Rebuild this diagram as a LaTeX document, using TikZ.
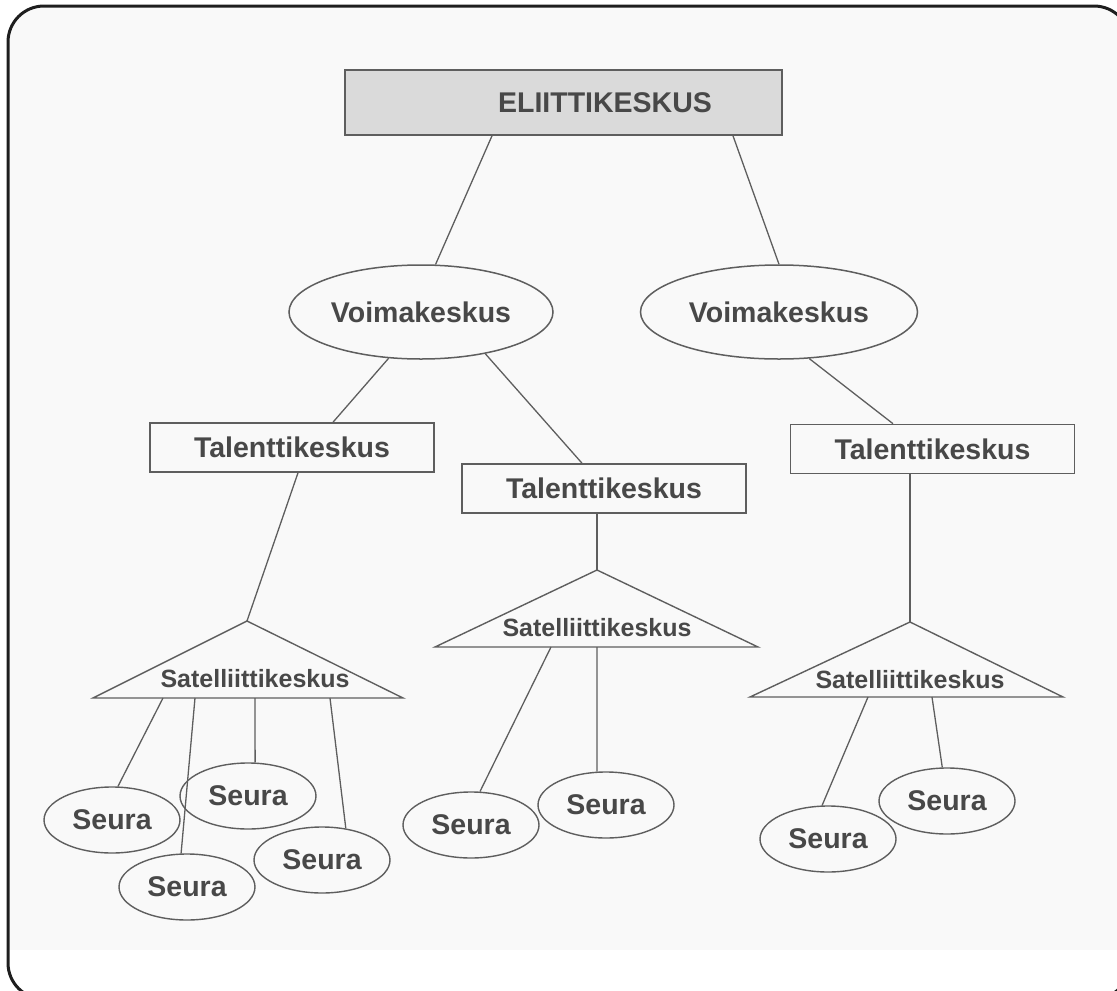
\documentclass[tikz,border=0pt]{standalone}
\usepackage{fontspec}
\setmainfont{Liberation Sans}
\usetikzlibrary{shapes.geometric}
\definecolor{ink}{HTML}{484848}
\definecolor{edge}{HTML}{5E5E5E}
\definecolor{paper}{HTML}{F9F9F9}
\definecolor{headfill}{HTML}{DADADA}
\definecolor{frame}{HTML}{1E1E1E}
\begin{document}
\begin{tikzpicture}[x=1pt,y=-1pt,
  lbl/.style={font=\bfseries\fontsize{28.5}{30}\selectfont, text=ink},
  headbox/.style={draw=edge, line width=1.6pt, fill=headfill, minimum width=437pt, minimum height=65pt, inner sep=0pt},
  talbox/.style={draw=edge, line width=1.6pt, minimum width=284pt, minimum height=49pt, inner sep=0pt, lbl},
  powerell/.style={ellipse, draw=edge, line width=1.5pt, minimum height=94pt, inner sep=0pt, lbl},
  clubell/.style={ellipse, draw=edge, line width=1.4pt, minimum width=136pt, minimum height=66pt, inner sep=0pt, lbl},
  satlbl/.style={font=\bfseries\fontsize{25}{27}\selectfont, text=ink, inner sep=0pt},
  tri/.style={draw=edge, line width=1.4pt, line join=miter},
  link/.style={draw=edge, line width=1.3pt},
]
\useasboundingbox (0,0) rectangle (1117,991);

% paper and outer frame
\begin{scope}
  \clip[rounded corners=36pt] (8,6) rectangle (1130,999);
  \fill[paper] (0,0) rectangle (1117,950);
\end{scope}
\draw[frame, line width=3pt, rounded corners=36pt] (8,6) rectangle (1130,999);

% hierarchy nodes
\node[headbox] (elite) at (563.5,102.5) {};
\node[lbl, inner sep=0pt] (eliteText) at (605,102.5) {ELIITTIKESKUS};
\node[powerell, minimum width=264pt] (powL) at (421,312) {Voimakeskus};
\node[powerell, minimum width=277pt] (powR) at (779,312) {Voimakeskus};
\node[talbox] (talL) at (292,447.5) {Talenttikeskus};
\node[talbox] (talM) at (604,488.5) {Talenttikeskus};
\node[talbox] (talR) at (932.5,449) {Talenttikeskus};

% satellite triangles
\coordinate (apexL) at (247,621);
\coordinate (blL) at (93,698);
\coordinate (brL) at (403,698);
\coordinate (apexM) at (597,570);
\coordinate (blM) at (435,647);
\coordinate (brM) at (758,647);
\coordinate (apexR) at (910,622);
\coordinate (blR) at (750,697);
\coordinate (brR) at (1063,697);
\draw[tri] (apexL) -- (blL) -- (brL) -- cycle;
\draw[tri] (apexM) -- (blM) -- (brM) -- cycle;
\draw[tri] (apexR) -- (blR) -- (brR) -- cycle;
\node[satlbl] (satL) at (255,679) {Satelliittikeskus};
\node[satlbl] (satM) at (597,628) {Satelliittikeskus};
\node[satlbl] (satR) at (910,680) {Satelliittikeskus};

% clubs
\node[clubell] (sA) at (112,820) {Seura};
\node[clubell] (sB) at (248,796) {Seura};
\node[clubell] (sC) at (187,887) {Seura};
\node[clubell] (sD) at (322,860) {Seura};
\node[clubell] (sE) at (471,825) {Seura};
\node[clubell] (sF) at (606,805) {Seura};
\node[clubell] (sG) at (828,839) {Seura};
\node[clubell] (sH) at (947,801) {Seura};

% base points of the club links
\coordinate (bL1) at (163,698);
\coordinate (bL2) at (195,698);
\coordinate (bL3) at (255,698);
\coordinate (bL4) at (330,698);
\coordinate (bM1) at (551,647);
\coordinate (bM2) at (597,647);
\coordinate (bR1) at (868,697);
\coordinate (bR2) at (932,697);

% links
\draw[link] ([xshift=-71.5pt]elite.south) -- (powL.73);
\draw[link] ([xshift=169.5pt]elite.south) -- (powR.90);
\draw[link] (powL.235) -- ([xshift=41pt]talL.north);
\draw[link] (powL.-33) -- ([xshift=-22pt]talM.north);
\draw[link] (powR.-57) -- ([xshift=-39.5pt]talR.north);
\draw[link] ([xshift=6pt]talL.south) -- (apexL);
\draw[link] ([xshift=-7pt]talM.south) -- (apexM);
\draw[link] ([xshift=-22.5pt]talR.south) -- (apexR);
\draw[link] (bL1) -- (sA.80);
\draw[link] (bL2) -- (sC.100);
\draw[link] (bL3) -- (sB.78);
\draw[link] (bL4) -- (sD.53);
\draw[link] (bM1) -- (sE.75);
\draw[link] (bM2) -- (sF.105);
\draw[link] (bR1) -- (sG.100);
\draw[link] (bR2) -- (sH.98);
\end{tikzpicture}
\end{document}
